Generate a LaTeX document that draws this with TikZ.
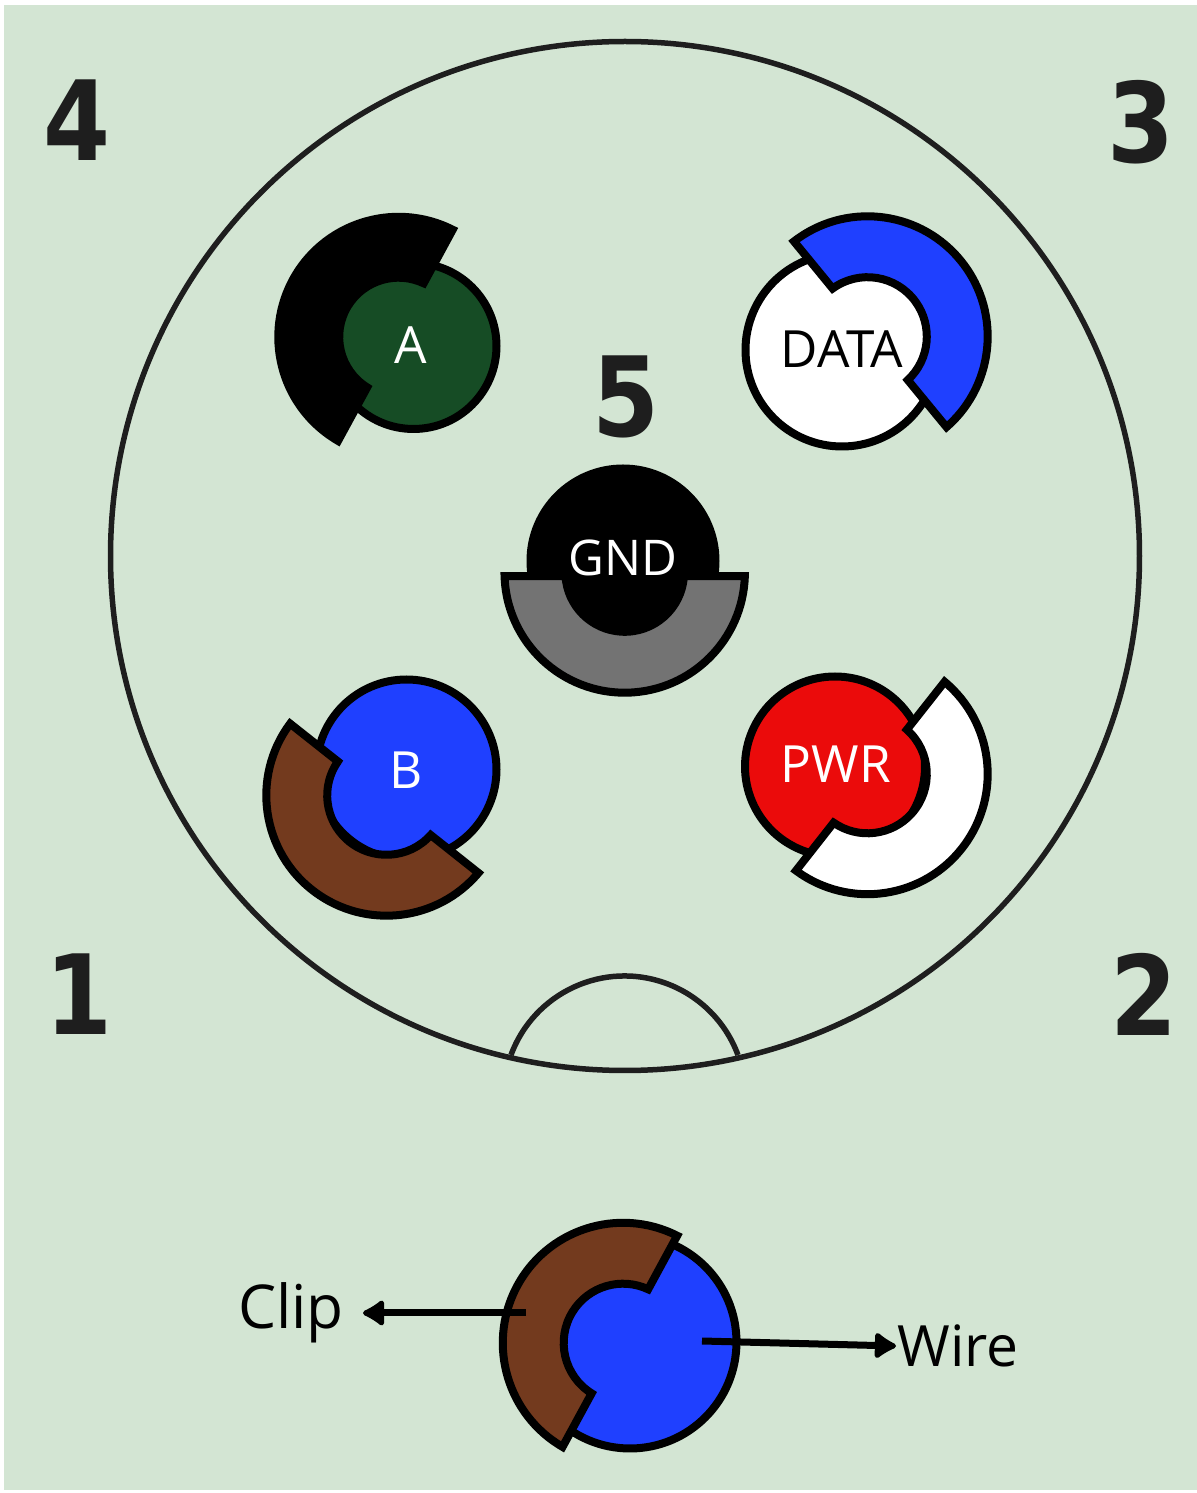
\documentclass[tikz,border=0pt]{standalone}
\usepackage{xcolor}
\usepackage{fontspec}
\setmainfont{Open Sans}
\newfontfamily\numfont[FakeStretch=0.87]{DejaVu Sans}
\usetikzlibrary{arrows.meta,positioning}

\definecolor{panelgreen}{HTML}{D3E5D3}
\definecolor{wiregreen}{HTML}{164C25}
\definecolor{wireblue}{HTML}{1F40FF}
\definecolor{wirered}{HTML}{EB0B0B}
\definecolor{clipbrown}{HTML}{733A1E}
\definecolor{clipgrey}{HTML}{737373}
\definecolor{ringblack}{HTML}{1E1E1E}

% clip around a wire: x, y, start angle, colour
\newcommand{\clipring}[4]{
   \draw[clipshape,fill=#4,shift={(#1,#2)}]
      (#3+1.7:120.2) arc[start angle=#3+1.7, end angle=#3+178.3, radius=120.2]
      -- (#3+176.6:59.3) arc[start angle=#3+176.6, end angle=#3+3.4, radius=59.3]
      -- cycle;
}

\begin{document}
\begin{tikzpicture}[x=0.1mm, y=0.1mm,
                    wire/.style={circle,draw=black,line width=0.8mm,inner sep=0pt},
                    clipshape/.style={draw=black,line width=0.8mm,miter limit=10},
                    pintext/.style={font=\fontsize{14.6}{16}\selectfont},
                    pinnumber/.style={text=ringblack,font=\numfont\bfseries\fontsize{31.5}{36}\selectfont},
                    ringline/.style={draw=ringblack,line width=0.55mm},
                    pointer/.style={-{Latex[length=2.5mm,width=3.2mm,round]},line width=0.7mm}]
   \useasboundingbox (0,0) rectangle (1197,1493);
   \fill[panelgreen] (4,3) rectangle (1197,1488);

   % Connector outline
   \node[circle,ringline,minimum size=102.9mm,inner sep=0pt] (shell) at (625,937) {};
   \coordinate (notch_left) at (511,438);
   \draw[ringline] (notch_left) arc[start angle=159.7, end angle=20.3, radius=121];

   % Pin numbers
   \node[pinnumber] (num_four) at (77,1373) {4};
   \node[pinnumber] (num_three) at (1141,1371) {3};
   \node[pinnumber] (num_five) at (626,1096) {5};
   \node[pinnumber] (num_one) at (79,499) {1};
   \node[pinnumber] (num_two) at (1144,499) {2};

   % Pins
   \node[wire,fill=wiregreen,minimum size=16.6mm] (pin_a) at (413.5,1147) {};
   \clipring{398.5}{1156}{61.5}{black}
   \node[pintext,text=white] (text_a) at (411,1148) {A};

   \node[wire,fill=white,minimum size=19.3mm] (pin_data) at (842,1143) {};
   \clipring{867.5}{1156.5}{-50.6}{wireblue}
   \node[pintext] (text_data) at (842,1144) {DATA};

   \node[wire,fill=black,minimum size=18.5mm] (pin_gnd) at (623,932) {};
   \clipring{624.7}{920.5}{180}{clipgrey}
   \node[text=white,font=\fontsize{14}{16}\selectfont] (text_gnd) at (623,935) {GND};

   \node[wire,fill=wireblue,minimum size=18mm] (pin_b) at (406.5,723.5) {};
   \clipring{386.5}{697.5}{141.6}{clipbrown}
   \node[pintext,text=white] (text_b) at (406,723) {B};

   \node[wire,fill=wirered,minimum size=18mm] (pin_pwr) at (835,726.5) {};
   \clipring{867.5}{719}{-128.2}{white}
   \node[pintext,text=white] (text_pwr) at (836,729) {PWR};

   % Legend
   \node[wire,fill=wireblue,minimum size=21.3mm] (pin_legend) at (630,151) {};
   \clipring{623}{150}{61.5}{clipbrown}
   \node[font=\fontsize{17.2}{19}\selectfont] (clip_label) at (291,180) {Clip};
   \node[font=\fontsize{16.2}{19}\selectfont] (wire_label) at (958,147) {Wire};
   \coordinate (clip_start) at (526,180);
   \coordinate (clip_tip) at (363,180);
   \coordinate (wire_start) at (702,152);
   \coordinate (wire_tip) at (896,147);
   \draw[pointer] (clip_start) -- (clip_tip);
   \draw[pointer] (wire_start) -- (wire_tip);
\end{tikzpicture}
\end{document}
